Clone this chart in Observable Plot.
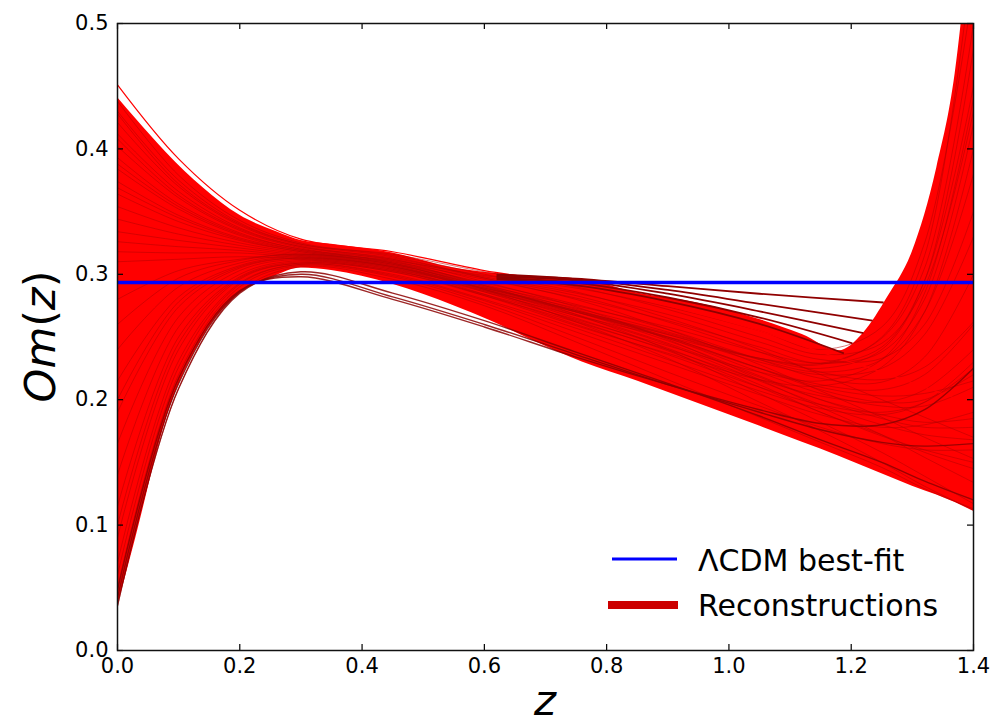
<!DOCTYPE html>
<html><head><meta charset="utf-8">
<script src="https://cdn.jsdelivr.net/npm/d3@7"></script>
<script src="https://cdn.jsdelivr.net/npm/@observablehq/plot@0.6"></script>
<style>body{margin:0;background:#fff;} #chart svg{display:block}</style>
</head><body><div id="chart"></div>
<script>
// ---- data ----
const zKnots = [0, 0.1, 0.2, 0.3, 0.45, 0.6, 0.75, 0.9, 1.05, 1.15, 1.25, 1.32, 1.4];

const outerCurve = [0.451, 0.392, 0.351, 0.328, 0.318, 0.303, 0.292, 0.275, 0.255, 0.238, 0.222, 0.21, 0.196];

const upperCurves = [
  [0.438, 0.379, 0.343, 0.325, 0.315, 0.300, 0.286, 0.265, 0.240, 0.220, 0.200, 0.186, 0.170],
  [0.430, 0.375, 0.341, 0.324, 0.314, 0.297, 0.280, 0.256, 0.228, 0.207, 0.186, 0.170, 0.153],
  [0.421, 0.370, 0.339, 0.323, 0.312, 0.294, 0.274, 0.248, 0.216, 0.194, 0.172, 0.154, 0.134],
  [0.412, 0.366, 0.337, 0.322, 0.311, 0.291, 0.268, 0.240, 0.205, 0.182, 0.158, 0.139, 0.117],
  [0.402, 0.361, 0.335, 0.321, 0.309, 0.288, 0.262, 0.233, 0.198, 0.175, 0.150, 0.131, 0.112],
  [0.393, 0.356, 0.333, 0.320, 0.312, 0.297, 0.283, 0.262, 0.238, 0.222, 0.216, 0.226, 0.262],
  [0.384, 0.352, 0.331, 0.319, 0.311, 0.299, 0.289, 0.274, 0.255, 0.240, 0.258, 0.325, 0.530],
  [0.374, 0.347, 0.329, 0.319, 0.310, 0.296, 0.281, 0.263, 0.242, 0.229, 0.242, 0.295, 0.450],
  [0.364, 0.342, 0.327, 0.318, 0.309, 0.293, 0.276, 0.256, 0.232, 0.217, 0.214, 0.234, 0.300],
  [0.354, 0.337, 0.325, 0.317, 0.308, 0.290, 0.271, 0.249, 0.222, 0.205, 0.195, 0.195, 0.210],
  [0.344, 0.332, 0.323, 0.316, 0.307, 0.288, 0.267, 0.244, 0.215, 0.196, 0.180, 0.172, 0.168],
  [0.334, 0.327, 0.321, 0.315, 0.306, 0.286, 0.263, 0.239, 0.210, 0.190, 0.171, 0.160, 0.150],
  [0.326, 0.322, 0.319, 0.314, 0.305, 0.284, 0.260, 0.236, 0.210, 0.196, 0.190, 0.198, 0.225],
  [0.318, 0.317, 0.317, 0.313, 0.304, 0.283, 0.259, 0.237, 0.216, 0.211, 0.226, 0.270, 0.400],
  [0.310, 0.312, 0.314, 0.312, 0.303, 0.286, 0.267, 0.250, 0.233, 0.229, 0.249, 0.305, 0.500],
  [0.428, 0.372, 0.340, 0.324, 0.316, 0.302, 0.290, 0.272, 0.250, 0.236, 0.245, 0.290, 0.430],
  [0.408, 0.363, 0.336, 0.322, 0.313, 0.298, 0.285, 0.268, 0.246, 0.232, 0.233, 0.260, 0.350],
  [0.388, 0.354, 0.332, 0.320, 0.310, 0.292, 0.272, 0.250, 0.225, 0.208, 0.198, 0.200, 0.220],
  [0.369, 0.345, 0.328, 0.318, 0.309, 0.291, 0.270, 0.247, 0.219, 0.200, 0.185, 0.178, 0.178]
];

const lowerCurves = [
  [0.035, 0.209, 0.286, 0.306, 0.296, 0.275, 0.246, 0.216, 0.186, 0.166, 0.146, 0.129, 0.113],
  [0.050, 0.220, 0.290, 0.307, 0.298, 0.277, 0.250, 0.222, 0.195, 0.178, 0.165, 0.160, 0.160],
  [0.070, 0.231, 0.293, 0.308, 0.300, 0.280, 0.257, 0.232, 0.207, 0.193, 0.188, 0.198, 0.230],
  [0.090, 0.240, 0.296, 0.309, 0.302, 0.284, 0.264, 0.243, 0.222, 0.215, 0.232, 0.285, 0.440],
  [0.115, 0.250, 0.298, 0.310, 0.303, 0.287, 0.270, 0.252, 0.233, 0.228, 0.250, 0.315, 0.560],
  [0.140, 0.258, 0.300, 0.311, 0.304, 0.289, 0.273, 0.254, 0.232, 0.222, 0.232, 0.270, 0.380],
  [0.165, 0.266, 0.303, 0.312, 0.305, 0.288, 0.270, 0.249, 0.225, 0.212, 0.208, 0.220, 0.260],
  [0.190, 0.274, 0.305, 0.313, 0.306, 0.288, 0.268, 0.245, 0.218, 0.200, 0.188, 0.182, 0.185],
  [0.215, 0.282, 0.307, 0.314, 0.306, 0.287, 0.265, 0.241, 0.212, 0.190, 0.172, 0.158, 0.145],
  [0.240, 0.290, 0.309, 0.315, 0.307, 0.289, 0.271, 0.252, 0.230, 0.220, 0.225, 0.252, 0.330],
  [0.260, 0.297, 0.311, 0.316, 0.308, 0.291, 0.275, 0.258, 0.238, 0.229, 0.238, 0.280, 0.420],
  [0.280, 0.303, 0.312, 0.316, 0.308, 0.290, 0.270, 0.250, 0.225, 0.210, 0.203, 0.205, 0.215],
  [0.060, 0.226, 0.292, 0.308, 0.299, 0.279, 0.254, 0.229, 0.204, 0.188, 0.178, 0.180, 0.190],
  [0.100, 0.245, 0.297, 0.309, 0.302, 0.283, 0.262, 0.240, 0.216, 0.203, 0.198, 0.208, 0.240],
  [0.200, 0.278, 0.306, 0.313, 0.306, 0.289, 0.271, 0.253, 0.233, 0.225, 0.240, 0.295, 0.480]
];

const edgeCurves = [
  [0.036, 0.209, 0.285, 0.302, 0.285, 0.263, 0.238, 0.213, 0.187, 0.168, 0.150, 0.135, 0.120],
  [0.042, 0.213, 0.286, 0.300, 0.282, 0.260, 0.236, 0.212, 0.190, 0.176, 0.166, 0.163, 0.165],
  [0.048, 0.217, 0.287, 0.298, 0.280, 0.258, 0.234, 0.212, 0.192, 0.181, 0.180, 0.192, 0.225]
];

const darkLineZ = [0.62, 0.75, 0.9, 1.05];
const darkLineEnds = [1.253, 1.235, 1.22, 1.202, 1.188];
const darkLines = [
  [0.300, 0.2965, 0.2905, 0.2845, 0.2775],
  [0.299, 0.2962, 0.2875, 0.2765, 0.263],
  [0.298, 0.2952, 0.2845, 0.2705, 0.253],
  [0.297, 0.2932, 0.2815, 0.2655, 0.245],
  [0.296, 0.2912, 0.2785, 0.2605, 0.237]
];

const envZ   = [0, 0.03, 0.08, 0.14, 0.2, 0.26, 0.3, 0.35, 0.45, 0.55, 0.61, 0.68, 0.76, 0.85, 0.95, 1.05, 1.12, 1.18, 1.22, 1.26, 1.3, 1.34, 1.37, 1.4];
const envTop = [0.441, 0.424, 0.397, 0.369, 0.347, 0.334, 0.327, 0.324, 0.317, 0.305, 0.301, 0.298, 0.296, 0.285, 0.277, 0.264, 0.252, 0.239, 0.253, 0.282, 0.318, 0.385, 0.46, 0.6];
const envLow = [0.035, 0.09, 0.185, 0.25, 0.285, 0.299, 0.305, 0.303, 0.292, 0.275, 0.263, 0.247, 0.230, 0.215, 0.197, 0.179, 0.166, 0.155, 0.147, 0.139, 0.131, 0.124, 0.118, 0.111];

const lcdmOm = 0.2935;
const xTicks = [0, 0.2, 0.4, 0.6, 0.8, 1.0, 1.2, 1.4];
const yTicks = [0, 0.1, 0.2, 0.3, 0.4, 0.5];
const legendLabels = ["ΛCDM best-fit", "Reconstructions"];

// ---- build tables ----
const toRows = (curves, g) => curves.flatMap((c, i) => c.map((v, k) => ({id: g + i, z: zKnots[k], om: v})));
const streakRows = toRows(upperCurves, "u").concat(toRows(lowerCurves, "l"));
const outerRows = outerCurve.map((v, k) => ({z: zKnots[k], om: v}));
const edgeRows = toRows(edgeCurves, "e");
const darkRows = darkLines.flatMap((c, i) => c.map((v, k) => ({id: "d" + i, z: k < darkLineZ.length ? darkLineZ[k] : darkLineEnds[i], om: v})));
const envRows = envZ.map((z, i) => ({z, top: envTop[i], low: envLow[i]}));

const W = 996, H = 726, mL = 117, mR = 23, mT = 23, mB = 76;
const fw = W - mL - mR, fh = H - mT - mB, tk = 6;

const chart = Plot.plot({
  width: W, height: H,
  marginLeft: mL, marginRight: mR, marginTop: mT, marginBottom: mB,
  x: {domain: [0, 1.4]},
  y: {domain: [0, 0.5]},
  style: {fontFamily: "'DejaVu Sans', sans-serif", fontSize: "21px", color: "#000", background: "#fff"},
  marks: [
    Plot.areaY(envRows, {x: "z", y1: "low", y2: "top", fill: "#ff0000", curve: "monotone-x", clip: true}),
    Plot.line(streakRows, {x: "z", y: "om", z: "id", stroke: "#b00000", strokeWidth: 1, strokeOpacity: 0.5, curve: "catmull-rom", clip: true}),
    Plot.line(outerRows, {x: "z", y: "om", stroke: "#ff0000", strokeWidth: 1.2, curve: "catmull-rom", clip: true}),
    Plot.line(edgeRows, {x: "z", y: "om", z: "id", stroke: "#8c0000", strokeWidth: 1.4, strokeOpacity: 0.85, curve: "catmull-rom", clip: true}),
    Plot.line(darkRows, {x: "z", y: "om", z: "id", stroke: "#900000", strokeWidth: 1.8, strokeLinecap: "butt", curve: "catmull-rom", clip: true}),
    Plot.ruleY([lcdmOm], {stroke: "#0000ff", strokeWidth: 3.5}),
    Plot.ruleX(xTicks, {x: d => d, insetTop: fh - tk, stroke: "#000", strokeWidth: 1.2}),
    Plot.ruleX(xTicks, {x: d => d, insetBottom: fh - tk, stroke: "#000", strokeWidth: 1.2}),
    Plot.ruleY(yTicks, {y: d => d, insetRight: fw - tk, stroke: "#000", strokeWidth: 1.2}),
    Plot.ruleY(yTicks, {y: d => d, insetLeft: fw - tk, stroke: "#000", strokeWidth: 1.2}),
    Plot.axisX({ticks: xTicks, tickSize: 0, tickPadding: 8, tickFormat: d3.format(".1f"), label: null, fontSize: 21}),
    Plot.axisY({ticks: yTicks, tickSize: 0, tickPadding: 9, tickFormat: d3.format(".1f"), label: null, fontSize: 21}),
    Plot.frame({stroke: "#111", strokeWidth: 1.5})
  ]
});
document.getElementById("chart").appendChild(chart);

const svg = d3.select(chart);
// axis titles
const yl = svg.append("text")
  .attr("transform", `translate(55,${mT + fh / 2}) rotate(-90)`)
  .attr("text-anchor", "middle")
  .style("font-family", "'DejaVu Sans', sans-serif").style("font-size", "43px").attr("fill", "#000");
yl.append("tspan").style("font-style", "italic").text("Om");
yl.append("tspan").text("(");
yl.append("tspan").style("font-style", "italic").text("z");
yl.append("tspan").text(")");
svg.append("text").attr("x", mL + fw / 2).attr("y", 715).attr("text-anchor", "middle")
  .style("font-family", "'DejaVu Sans', sans-serif").style("font-size", "42px").style("font-style", "italic")
  .attr("fill", "#000").text("z");

// legend
const leg = svg.append("g").style("font-family", "'DejaVu Sans', sans-serif").style("font-size", "30px").attr("text-anchor", "start");
leg.append("line").attr("x1", 612).attr("x2", 677).attr("y1", 559).attr("y2", 559).attr("stroke", "#0000ff").attr("stroke-width", 3);
leg.append("text").attr("x", 698).attr("y", 560).attr("text-anchor", "start").attr("dominant-baseline", "central").attr("fill", "#000").text(legendLabels[0]);
leg.append("line").attr("x1", 608).attr("x2", 678).attr("y1", 605).attr("y2", 605).attr("stroke", "#cc0000").attr("stroke-width", 8);
leg.append("text").attr("x", 698).attr("y", 605).attr("text-anchor", "start").attr("dominant-baseline", "central").attr("fill", "#000").text(legendLabels[1]);
</script>
</body></html>
